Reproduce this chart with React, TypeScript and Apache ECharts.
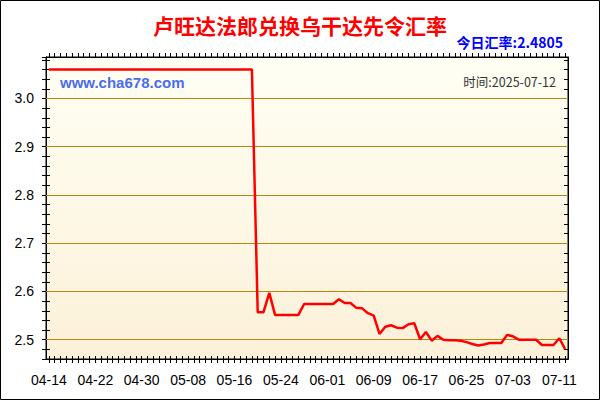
import React, { useEffect, useRef } from "react";
import * as echarts from "echarts";

const TITLE = "卢旺达法郎兑换乌干达先令汇率";
const TODAY_RATE = "今日汇率:2.4805";
const SITE = "www.cha678.com";
const TIME_TEXT = "时间:2025-07-12";

const dates = [
  "04-14","04-15","04-16","04-17","04-18","04-19","04-20","04-21","04-22","04-23",
  "04-24","04-25","04-26","04-27","04-28","04-29","04-30","05-01","05-02","05-03",
  "05-04","05-05","05-06","05-07","05-08","05-09","05-10","05-11","05-12","05-13",
  "05-14","05-15","05-16","05-17","05-18","05-19","05-20","05-21","05-22","05-23",
  "05-24","05-25","05-26","05-27","05-28","05-29","05-30","05-31","06-01","06-02",
  "06-03","06-04","06-05","06-06","06-07","06-08","06-09","06-10","06-11","06-12",
  "06-13","06-14","06-15","06-16","06-17","06-18","06-19","06-20","06-21","06-22",
  "06-23","06-24","06-25","06-26","06-27","06-28","06-29","06-30","07-01","07-02",
  "07-03","07-04","07-05","07-06","07-07","07-08","07-09","07-10","07-11","07-12",
];

const rates = [
  3.06, 3.06, 3.06, 3.06, 3.06, 3.06, 3.06, 3.06, 3.06, 3.06,
  3.06, 3.06, 3.06, 3.06, 3.06, 3.06, 3.06, 3.06, 3.06, 3.06,
  3.06, 3.06, 3.06, 3.06, 3.06, 3.06, 3.06, 3.06, 3.06, 3.06,
  3.06, 3.06, 3.06, 3.06, 3.06, 3.06, 2.557, 2.557, 2.597, 2.551,
  2.551, 2.551, 2.551, 2.551, 2.574, 2.574, 2.574, 2.574, 2.574, 2.574,
  2.584, 2.576, 2.576, 2.566, 2.565, 2.555, 2.55, 2.512, 2.527, 2.53,
  2.525, 2.524, 2.532, 2.534, 2.501, 2.516, 2.498, 2.508, 2.5, 2.499,
  2.499, 2.498, 2.495, 2.491, 2.488, 2.49, 2.493, 2.493, 2.493, 2.51,
  2.507, 2.5, 2.5, 2.5, 2.5, 2.489, 2.489, 2.489, 2.503, 2.4805,
];

const gridValues = [2.5, 2.6, 2.7, 2.8, 2.9, 3.0];

const Y_MIN = 2.46;
const Y_MAX = 3.086;

export default function App() {
  const ref = useRef<HTMLDivElement>(null);

  useEffect(() => {
    document.body.style.margin = "0";
    if (!ref.current) return;
    const chart = echarts.init(ref.current, undefined, { renderer: "svg" });

    const font = "'Liberation Sans', Arial, sans-serif";
    const cjk = "'Noto Sans CJK SC', sans-serif";

    const isMajor = (v: number) => Math.abs(v * 10 - Math.round(v * 10)) < 1e-6;

    const baseY = {
      type: "value" as const,
      min: Y_MIN,
      max: Y_MAX,
      interval: 0.02,
      splitLine: { show: false },
      axisLine: { show: true, lineStyle: { color: "#000", width: 1 } },
    };

    const baseX = {
      type: "category" as const,
      data: dates,
      boundaryGap: true,
      splitLine: { show: false },
      axisLine: { show: true, lineStyle: { color: "#000", width: 1 } },
    };

    chart.setOption({
      animation: false,
      backgroundColor: "#fff",
      title: {
        text: TITLE,
        left: "center",
        top: 9,
        textStyle: {
          color: "#ff0000",
          fontSize: 21,
          fontWeight: "bold",
          fontFamily: cjk,
        },
      },
      grid: {
        left: 46,
        right: 32,
        top: 57,
        bottom: 41,
        show: true,
        borderColor: "#000",
        borderWidth: 1,
        backgroundColor: new echarts.graphic.LinearGradient(0, 0, 0, 1, [
          { offset: 0, color: "#fffff4" },
          { offset: 1, color: "#fcf1d9" },
        ]),
      },
      xAxis: [
        {
          ...baseX,
          position: "bottom",
          axisTick: {
            show: true,
            interval: 0,
            alignWithLabel: true,
            length: 4,
            lineStyle: { color: "#000" },
          },
          axisLabel: {
            interval: 7,
            margin: 14,
            color: "#000",
            fontSize: 14,
            fontFamily: font,
          },
        },
        {
          ...baseX,
          position: "bottom",
          axisTick: {
            show: true,
            inside: true,
            interval: 0,
            alignWithLabel: true,
            length: 3,
            lineStyle: { color: "#000" },
          },
          axisLabel: { show: false },
        },
        {
          ...baseX,
          position: "top",
          axisTick: {
            show: true,
            interval: 0,
            alignWithLabel: true,
            length: 4,
            lineStyle: { color: "#000" },
          },
          axisLabel: { show: false },
        },
      ],
      yAxis: [
        {
          ...baseY,
          position: "left",
          axisTick: { show: true, length: 4, lineStyle: { color: "#000" } },
          axisLabel: {
            margin: 12,
            color: "#000",
            fontSize: 14,
            fontFamily: font,
            formatter: (v: number) => (isMajor(v) ? v.toFixed(1) : ""),
          },
        },
        {
          ...baseY,
          position: "left",
          axisTick: { show: true, inside: true, length: 4, lineStyle: { color: "#000" } },
          axisLabel: { show: false },
        },
        {
          ...baseY,
          position: "right",
          axisTick: { show: true, inside: true, length: 4, lineStyle: { color: "#000" } },
          axisLabel: { show: false },
        },
      ],
      graphic: [
        {
          type: "rect",
          shape: { x: 0.5, y: 0.5, width: 599, height: 399 },
          style: { fill: "none", stroke: "#000", lineWidth: 1 },
          z: 100,
        },
        {
          type: "text",
          right: 37,
          top: 35,
          style: {
            text: TODAY_RATE,
            fill: "#0000ff",
            font: `bold 14px ${cjk}`,
          },
          z: 100,
        },
        {
          type: "text",
          left: 60,
          top: 75,
          style: {
            text: SITE,
            fill: "#4a6cf0",
            font: `bold 15px ${font}`,
          },
          z: 100,
        },
        {
          type: "text",
          right: 44,
          top: 75,
          style: {
            text: TIME_TEXT,
            fill: "#333",
            font: `12.5px ${cjk}`,
          },
          z: 100,
        },
      ],
      series: [
        {
          type: "line",
          xAxisIndex: 0,
          yAxisIndex: 0,
          data: rates,
          symbol: "none",
          lineStyle: { color: "#ff0000", width: 2.5 },
          markLine: {
            silent: true,
            symbol: "none",
            label: { show: false },
            lineStyle: { color: "#b8860b", width: 1, type: "solid" },
            data: gridValues.map((v) => ({ yAxis: v })),
            z: 1,
          },
        },
      ],
    });

    return () => chart.dispose();
  }, []);

  return <div ref={ref} style={{ width: 600, height: 400 }} />;
}
